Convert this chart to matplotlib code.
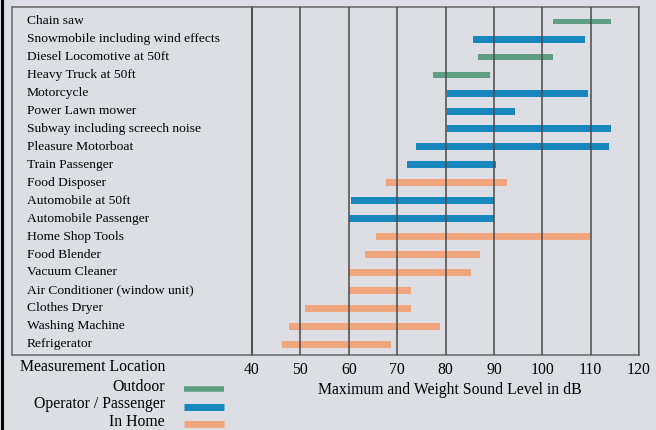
import matplotlib.pyplot as plt
from matplotlib.lines import Line2D
import matplotlib.transforms as mtransforms

# sound sources, top to bottom
labels = [
    "Chain saw",
    "Snowmobile including wind effects",
    "Diesel Locomotive at 50ft",
    "Heavy Truck at 50ft",
    "Motorcycle",
    "Power Lawn mower",
    "Subway including screech noise",
    "Pleasure Motorboat",
    "Train Passenger",
    "Food Disposer",
    "Automobile at 50ft",
    "Automobile Passenger",
    "Home Shop Tools",
    "Food Blender",
    "Vacuum Cleaner",
    "Air Conditioner (window unit)",
    "Clothes Dryer",
    "Washing Machine",
    "Refrigerator",
]
low = [102.3, 85.6, 86.7, 77.4, 80.3, 80.4, 80.4, 74.0, 72.1, 67.6,
       60.4, 60.1, 65.7, 63.3, 59.8, 60.1, 50.9, 47.7, 46.2]
high = [114.2, 108.8, 102.3, 89.1, 109.4, 94.3, 114.2, 113.9, 90.5, 92.7,
        90.0, 90.0, 109.9, 87.2, 85.2, 72.8, 72.8, 78.9, 68.8]
location = ["Outdoor", "Operator / Passenger", "Outdoor", "Outdoor",
            "Operator / Passenger", "Operator / Passenger", "Operator / Passenger",
            "Operator / Passenger", "Operator / Passenger", "In Home",
            "Operator / Passenger", "Operator / Passenger", "In Home", "In Home",
            "In Home", "In Home", "In Home", "In Home", "In Home"]
locations = ["Outdoor", "Operator / Passenger", "In Home"]
ticks = [40, 50, 60, 70, 80, 90, 100, 110, 120]

colors = {"Outdoor": "#5e9e82", "Operator / Passenger": "#1787be", "In Home": "#f1a57d"}
thick = {"Outdoor": 5.5, "Operator / Passenger": 7, "In Home": 7}  # px
bg = "#dddee3"
frame = "#707070"
gridc = "#4a4a4a"

plt.rcParams["font.family"] = ["Liberation Serif", "DejaVu Serif"]

W, H = 656, 430
fig = plt.figure(figsize=(W / 100, H / 100), dpi=100, facecolor=bg)


def box(x0, y0, x1, y1):
    return [x0 / W, 1 - y1 / H, (x1 - x0) / W, (y1 - y0) / H]


side = fig.add_axes(box(12, 7, 252, 355))
ax = fig.add_axes(box(252, 7, 639, 355))

n = len(labels)
rows = list(range(n))
ylim = (n - 1 + 0.6, -0.8)
row_px = 348 / (ylim[0] - ylim[1])

for a in (side, ax):
    a.set_facecolor(bg)
    a.set_ylim(*ylim)
    for s in a.spines.values():
        s.set_color(frame)
        s.set_linewidth(1.2)

# bars
for i in rows:
    loc = location[i]
    ax.barh(i, high[i] - low[i], left=low[i], height=thick[loc] / row_px,
            color=colors[loc], zorder=1)

ax.set_xlim(40, 120)
ax.set_xticks(ticks)
ax.set_yticks([])
ax.grid(axis="x", color=gridc, linewidth=1.1)
ax.set_axisbelow(False)
ax.spines["left"].set_color(gridc)
ax.tick_params(axis="x", length=0, labelsize=11.3, pad=5)

# label panel
side.set_xticks([])
side.set_yticks([])
trans = mtransforms.blended_transform_factory(side.transAxes, side.transData)
for i in rows:
    side.text(0.061, i, labels[i], transform=trans, ha="left", va="center", fontsize=9.7)

fig.text(450 / W, 1 - 390 / H, "Maximum and Weight Sound Level in dB",
         ha="center", va="center", fontsize=11.3)

# legend
fig.text(20 / W, 1 - 367 / H, "Measurement Location", ha="left", va="center", fontsize=11.3)
for k, loc in enumerate(locations):
    y = 387 + 17.5 * k
    fig.text(165 / W, 1 - y / H, loc, ha="right", va="center", fontsize=11.3)
    fig.add_artist(Line2D([184 / W, 224 / W], [1 - (y + 2) / H] * 2,
                          color=colors[loc], linewidth=thick[loc] * 0.72,
                          solid_capstyle="butt"))

# dark edge on the left
fig.add_artist(Line2D([1.5 / W, 1.5 / W], [0, 1], color="black", linewidth=2.2))

fig.savefig("out.png", dpi=100, facecolor=bg)
